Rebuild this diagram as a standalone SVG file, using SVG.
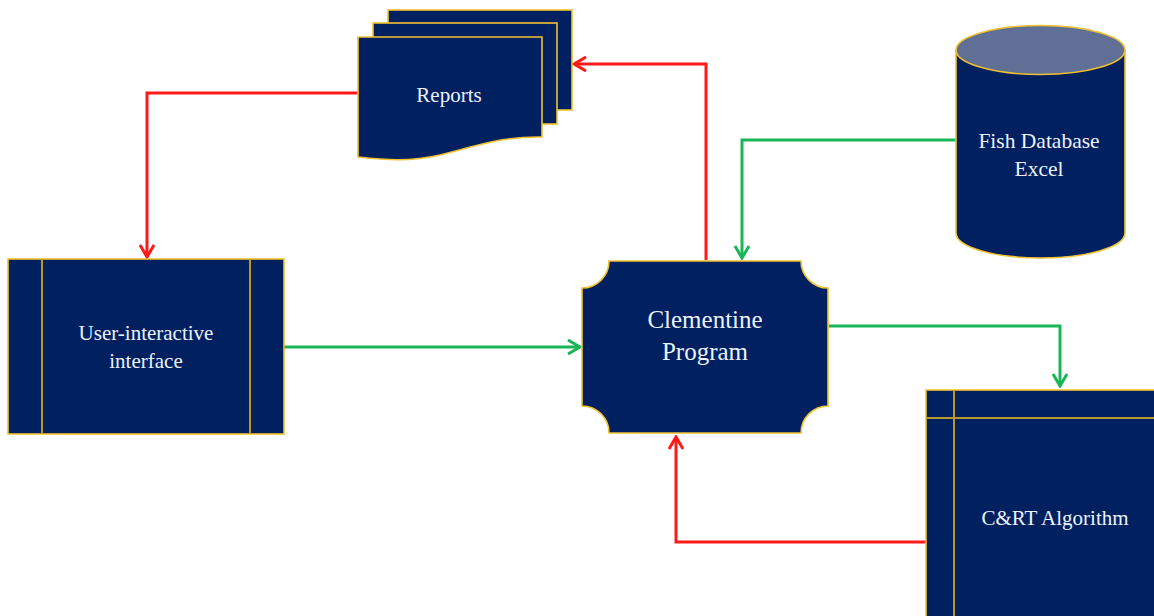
<svg xmlns="http://www.w3.org/2000/svg" width="1154" height="616" viewBox="0 0 1154 616">
<style>
.node{fill:#002060;stroke:#f2c12e;stroke-width:1.6}
.inner{stroke:#b8962a;stroke-width:2;fill:none}
.lbl{font-family:"Liberation Serif","Times New Roman",serif;fill:#eef2fa;text-anchor:middle}
.red{stroke:#ff1a1a;stroke-width:3;fill:none}
.green{stroke:#19b657;stroke-width:3;fill:none}
</style>
<defs>
<marker id="ar" viewBox="0 0 16 16" refX="14" refY="8" markerWidth="16" markerHeight="16" markerUnits="userSpaceOnUse" orient="auto">
<path d="M2,1 L14,8 L2,15" fill="none" stroke="#ff1a1a" stroke-width="3"/>
</marker>
<marker id="ag" viewBox="0 0 16 16" refX="14" refY="8" markerWidth="16" markerHeight="16" markerUnits="userSpaceOnUse" orient="auto">
<path d="M2,1 L14,8 L2,15" fill="none" stroke="#19b657" stroke-width="3"/>
</marker>
</defs>
<rect width="1154" height="616" fill="#ffffff"/>
<g id="connectors">
<path class="red" d="M358,93 H147 V257" marker-end="url(#ar)"/>
<path class="red" d="M706,260 V64 H574" marker-end="url(#ar)"/>
<path class="green" d="M956,140 H742 V258" marker-end="url(#ag)"/>
<path class="green" d="M284,347 H580" marker-end="url(#ag)"/>
<path class="green" d="M829,326 H1060 V386" marker-end="url(#ag)"/>
<path class="red" d="M926,542 H676 V437" marker-end="url(#ar)"/>
</g>
<g id="reports">
<rect class="node" x="388" y="10" width="184" height="100"/>
<rect class="node" x="373" y="23" width="184" height="101"/>
<path class="node" d="M358,37 H542 V137 C500,136 470,148 440,155 C410,162 385,160 358,157 Z"/>
<text class="lbl" x="449" y="102" font-size="21">Reports</text>
</g>
<g id="fishdb">
<path class="node" d="M956,50 V233 A84.5,25 0 0 0 1125,233 V50"/>
<ellipse cx="1040.5" cy="50" rx="84.5" ry="24.5" fill="#5f6f96" stroke="#f2c12e" stroke-width="1.6"/>
<text class="lbl" x="1039" y="148" font-size="21.5">Fish Database</text>
<text class="lbl" x="1039" y="176" font-size="21.5">Excel</text>
</g>
<g id="clementine">
<path class="node" d="M609,261 H801 A27,27 0 0 0 828,288 V406 A27,27 0 0 0 801,433 H609 A27,27 0 0 0 582,406 V288 A27,27 0 0 0 609,261 Z"/>
<text class="lbl" x="705" y="328" font-size="25">Clementine</text>
<text class="lbl" x="705" y="360" font-size="25">Program</text>
</g>
<g id="ui">
<rect class="node" x="8" y="259" width="276" height="175"/>
<line class="inner" x1="42" y1="260" x2="42" y2="433"/>
<line class="inner" x1="250" y1="260" x2="250" y2="433"/>
<text class="lbl" x="146" y="340" font-size="21">User-interactive</text>
<text class="lbl" x="146" y="368" font-size="21">interface</text>
</g>
<g id="cart">
<rect class="node" x="926" y="390" width="240" height="240"/>
<line class="inner" x1="954" y1="391" x2="954" y2="616"/>
<line class="inner" x1="927" y1="418" x2="1154" y2="418"/>
<text class="lbl" x="1055" y="525" font-size="21">C&amp;RT Algorithm</text>
</g>
</svg>
